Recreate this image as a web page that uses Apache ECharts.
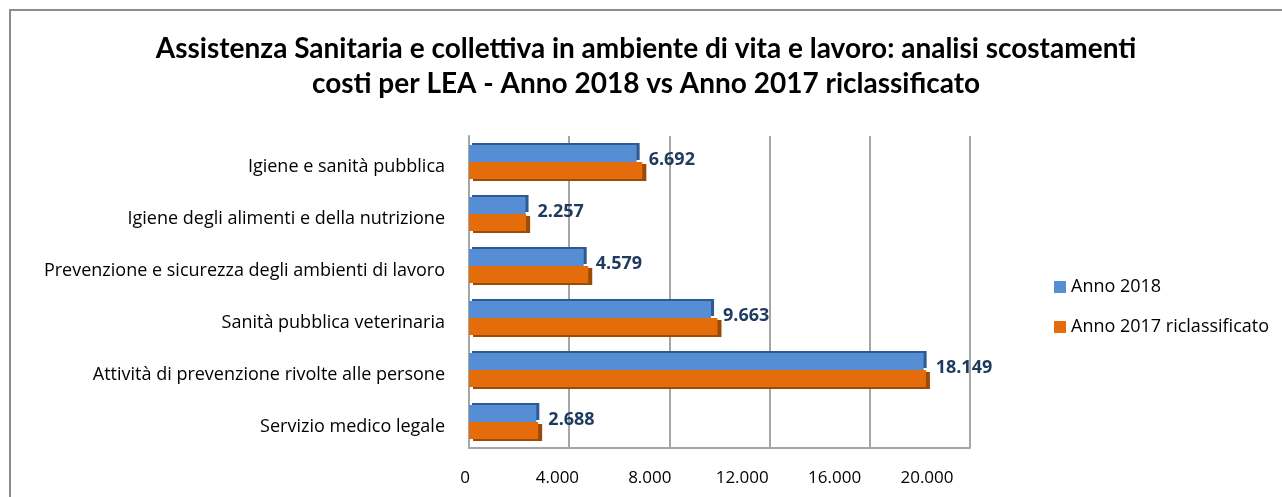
<!DOCTYPE html>
<html>
<head>
<meta charset="utf-8">
<script src="https://cdn.jsdelivr.net/npm/echarts@6/dist/echarts.min.js"></script>
<style>
  html, body { margin: 0; padding: 0; background: #fff; }
  #chart { width: 1282px; height: 497px; }
</style>
</head>
<body>
<div id="chart"></div>
<script>
// categorie (dal basso verso l'alto come in Excel)
var categorie = [
  'Servizio medico legale',
  'Attività di prevenzione rivolte alle persone',
  'Sanità pubblica veterinaria',
  'Prevenzione e sicurezza degli ambienti di lavoro',
  'Igiene degli alimenti e della nutrizione',
  'Igiene e sanità pubblica'
]
var anno2018 = [2688, 18149, 9663, 4579, 2257, 6692]
var anno2017 = [2760, 18240, 9920, 4760, 2280, 6920]
var tickMax = 20000
var tickStep = 4000

function fmt(v) {
  // separatore migliaia all'italiana
  return String(v).replace(/\B(?=(\d{3})+(?!\d))/g, '.')
}

var myChart = echarts.init(document.getElementById('chart'))
var font = '"Open Sans", sans-serif'

var option = {
  backgroundColor: '#fff',
  animation: false,
  title: {
    text: 'Assistenza Sanitaria e collettiva in ambiente di vita e lavoro: analisi scostamenti\ncosti per LEA - Anno 2018 vs Anno 2017 riclassificato',
    left: 641,
    top: 26,
    textAlign: 'center',
    textStyle: {
      fontFamily: 'Lato, sans-serif',
      fontSize: 28,
      fontWeight: 'bold',
      color: '#000',
      lineHeight: 35
    }
  },
  graphic: [{
    type: 'rect',
    shape: { x: 10, y: 10, width: 1290, height: 520 },
    style: { fill: 'none', stroke: '#8c8c8c', lineWidth: 2 },
    silent: true
  }],
  legend: {
    orient: 'vertical',
    left: 1049,
    top: 273,
    itemWidth: 12,
    itemHeight: 12,
    itemGap: 22,
    icon: 'rect',
    data: ['Anno 2018', 'Anno 2017 riclassificato'],
    textStyle: { fontFamily: font, fontSize: 18, color: '#000' }
  },
  grid: [
    { left: 469, top: 136, width: 501, height: 312 },
    // piano frontale del 3D: solo etichette dell'asse
    { left: 465, top: 136, width: 462, height: 312 }
  ],
  xAxis: [
    {
      type: 'value',
      gridIndex: 0,
      min: 0,
      max: tickMax,
      interval: tickStep,
      axisLine: { show: true, lineStyle: { color: '#a6a6a6', width: 2 } },
      axisTick: { show: false },
      axisLabel: { show: false },
      splitLine: { show: true, lineStyle: { color: '#a6a6a6', width: 2 } }
    },
    {
      type: 'value',
      gridIndex: 1,
      min: 0,
      max: tickMax,
      interval: tickStep,
      axisLine: { show: false },
      axisTick: { show: false },
      splitLine: { show: false },
      axisLabel: {
        margin: 22,
        fontFamily: font,
        fontSize: 17,
        color: '#000',
        formatter: function (v) { return fmt(v) }
      }
    }
  ],
  yAxis: [
    {
      type: 'category',
      gridIndex: 0,
      data: categorie,
      axisLine: { show: true, lineStyle: { color: '#a6a6a6', width: 2 } },
      axisTick: { show: false },
      axisLabel: {
        margin: 24,
        fontFamily: font,
        fontSize: 18,
        color: '#000',
        verticalAlign: 'top',
        lineHeight: 10
      }
    },
    {
      type: 'category',
      gridIndex: 1,
      data: categorie,
      show: false
    }
  ],
  series: [
    {
      name: 'Anno 2018',
      type: 'bar',
      data: anno2018,
      barWidth: 17,
      barGap: '0%',
      itemStyle: {
        color: '#558ed5',
        shadowColor: '#2f5a8f',
        shadowOffsetX: 3,
        shadowOffsetY: -2
      },
      label: {
        show: true,
        position: 'right',
        distance: 12,
        offset: [0, 6],
        fontFamily: font,
        fontSize: 18,
        fontWeight: 'bold',
        color: '#1f3a5f',
        formatter: function (p) { return fmt(p.value) }
      },
      z: 3
    },
    {
      name: 'Anno 2017 riclassificato',
      type: 'bar',
      data: anno2017,
      barWidth: 17,
      itemStyle: {
        color: '#e46c0a',
        shadowColor: '#9c4a06',
        shadowOffsetX: 4,
        shadowOffsetY: 2
      },
      z: 2
    }
  ]
}

myChart.setOption(option)
window.addEventListener('resize', function () {
  myChart.resize()
})
</script>
</body>
</html>
